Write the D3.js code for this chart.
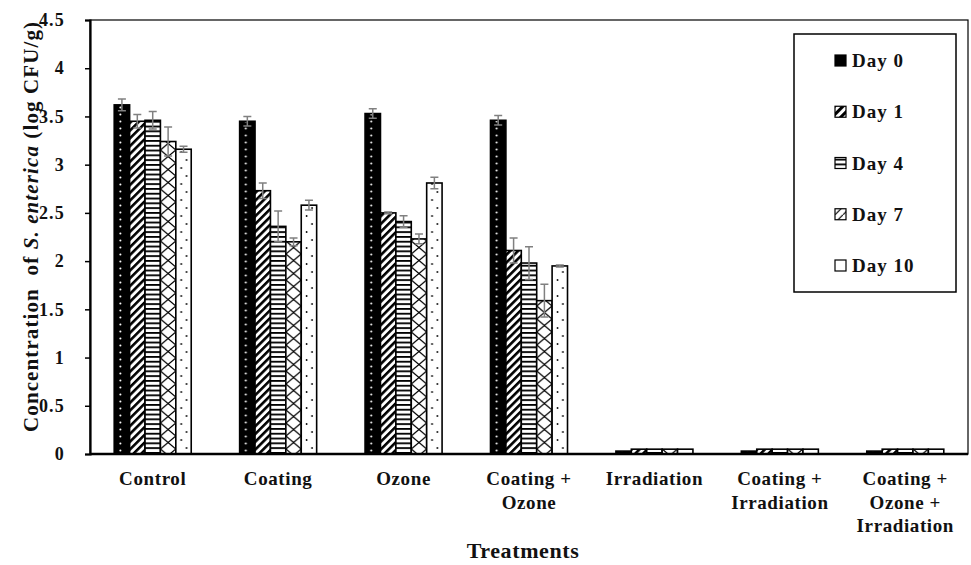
<!DOCTYPE html>
<html>
<head>
<meta charset="utf-8">
<script src="https://cdn.jsdelivr.net/npm/d3@7"></script>
<style>
  body { margin: 0; background: #fff; }
  svg text { font-family: "Liberation Serif", "Times New Roman", serif; font-weight: bold; fill: #111; }
</style>
</head>
<body>
<svg id="chart" width="971" height="565"></svg>
<script>
// data
const categories = ['Control', 'Coating', 'Ozone', 'Coating + Ozone', 'Irradiation',
    'Coating + Irradiation', 'Coating + Ozone + Irradiation'];
const categoryLines = [['Control'], ['Coating'], ['Ozone'], ['Coating +', 'Ozone'], ['Irradiation'],
    ['Coating +', 'Irradiation'], ['Coating +', 'Ozone +', 'Irradiation']];
const days = ['Day 0', 'Day 1', 'Day 4', 'Day 7', 'Day 10'];

// one array per treatment, values by day
const control = [3.62, 3.45, 3.46, 3.24, 3.16];
const coating = [3.45, 2.73, 2.36, 2.20, 2.58];
const ozone = [3.53, 2.50, 2.41, 2.23, 2.81];
const coatingOzone = [3.46, 2.11, 1.98, 1.59, 1.95];
const irradiation = [0.03, 0.05, 0.05, 0.05, 0.05];
const coatingIrradiation = [0.03, 0.05, 0.05, 0.05, 0.05];
const coatingOzoneIrradiation = [0.03, 0.05, 0.05, 0.05, 0.05];

// standard errors
const controlErr = [0.06, 0.07, 0.09, 0.15, 0.03];
const coatingErr = [0.05, 0.08, 0.16, 0.04, 0.05];
const ozoneErr = [0.05, 0.01, 0.06, 0.05, 0.06];
const coatingOzoneErr = [0.05, 0.13, 0.17, 0.17, 0.01];
const zeroErr = [0, 0, 0, 0, 0];

const yTicks = [0, 0.5, 1, 1.5, 2, 2.5, 3, 3.5, 4, 4.5];

const values = [control, coating, ozone, coatingOzone, irradiation, coatingIrradiation, coatingOzoneIrradiation];
const errors = [controlErr, coatingErr, ozoneErr, coatingOzoneErr, zeroErr, zeroErr, zeroErr];

const margin = { top: 20, left: 90, right: 3, bottom: 111 };
const width = 971 - margin.left - margin.right;
const height = 565 - margin.top - margin.bottom;

const svg = d3.select('#chart');
const defs = svg.append('defs');

const x0 = d3.scaleBand()
    .domain(categories)
    .range([0, width])
    .paddingInner(0.386)
    .paddingOuter(0.193);

const x1 = d3.scaleBand()
    .domain(days)
    .range([0, x0.bandwidth()])
    .padding(0);

const y = d3.scaleLinear()
    .domain([0, 4.5])
    .range([height, 0]);

const bw = x1.bandwidth();

// fill patterns for each day (tiles line up with the bars inside each group)
const pat = (id, w, h, extra) => {
    const p = defs.append('pattern')
        .attr('id', id)
        .attr('patternUnits', 'userSpaceOnUse')
        .attr('width', w)
        .attr('height', h);
    if (extra) p.attr('patternTransform', extra);
    return p;
};

const p0 = pat('day0', bw, 7);
p0.append('rect').attr('width', bw).attr('height', 7).attr('fill', '#000');
p0.append('circle').attr('cx', bw * 0.4).attr('cy', 3.5).attr('r', 1).attr('fill', '#fff');

const p1 = pat('day1', 5.5, 5.5, 'rotate(45)');
p1.append('rect').attr('width', 5.5).attr('height', 5.5).attr('fill', '#fff');
p1.append('rect').attr('width', 2.6).attr('height', 5.5).attr('fill', '#000');

const p2 = pat('day4', 6, 4.8);
p2.append('rect').attr('width', 6).attr('height', 4.8).attr('fill', '#fff');
p2.append('rect').attr('y', 0).attr('width', 6).attr('height', 1.8).attr('fill', '#000');

const p3 = pat('day7', bw, 13);
p3.append('rect').attr('width', bw).attr('height', 13).attr('fill', '#fff');
p3.append('path').attr('d', `M0,0L${bw},13M${bw},0L0,13`).attr('stroke', '#000').attr('stroke-width', 1.3);

const p4 = pat('day10', bw, 16);
p4.append('rect').attr('width', bw).attr('height', 16).attr('fill', '#fff');
p4.append('circle').attr('cx', bw * 0.35).attr('cy', 4).attr('r', 0.9).attr('fill', '#000');
p4.append('circle').attr('cx', bw * 0.7).attr('cy', 12).attr('r', 0.9).attr('fill', '#000');

const fills = ['url(#day0)', 'url(#day1)', 'url(#day4)', 'url(#day7)', 'url(#day10)'];

// small swatch fills for the legend
const s1 = pat('sw1', 6, 6, 'rotate(45)');
s1.append('rect').attr('width', 6).attr('height', 6).attr('fill', '#fff');
s1.append('rect').attr('width', 3).attr('height', 6).attr('fill', '#000');
const s3 = pat('sw3', 8, 8);
s3.append('rect').attr('width', 8).attr('height', 8).attr('fill', '#fff');
s3.append('path').attr('d', 'M0,8L8,0').attr('stroke', '#000').attr('stroke-width', 1.2);
const swatchFills = ['#000', 'url(#sw1)', 'url(#day4)', 'url(#sw3)', '#fff'];

const plot = svg.append('g').attr('transform', `translate(${margin.left},${margin.top})`);

// plot frame
plot.append('rect')
    .attr('width', width)
    .attr('height', height)
    .attr('fill', 'none')
    .attr('stroke', '#000')
    .attr('stroke-width', 1.2);

// bars
const groups = plot.selectAll('.group')
    .data(categories)
    .join('g')
    .attr('class', 'group')
    .attr('transform', d => `translate(${x0(d)},0)`);

const cells = groups.selectAll('.cell')
    .data((c, i) => days.map((d, j) => ({ day: d, j, v: values[i][j], e: errors[i][j] })))
    .join('g')
    .attr('class', 'cell');

cells.append('rect')
    .attr('x', d => x1(d.day))
    .attr('y', d => y(d.v))
    .attr('width', bw)
    .attr('height', d => height - y(d.v))
    .attr('fill', d => fills[d.j])
    .attr('stroke', '#000')
    .attr('stroke-width', 1.6);

// error bars
const capW = 4;
cells.filter(d => d.e > 0).append('path')
    .attr('stroke', '#808080')
    .attr('stroke-width', 1.5)
    .attr('fill', 'none')
    .attr('d', (d) => {
        const cx = x1(d.day) + bw / 2;
        const top = y(d.v + d.e);
        const bot = y(d.v - d.e);
        return `M${cx},${top}V${bot}M${cx - capW},${top}H${cx + capW}M${cx - capW},${bot}H${cx + capW}`;
    });

// y axis
const yAxis = d3.axisLeft(y)
    .tickValues(yTicks)
    .tickSize(5)
    .tickPadding(20)
    .tickFormat(d => d);

const yG = plot.append('g').call(yAxis);
yG.select('.domain').attr('stroke-width', 2.2);
yG.selectAll('.tick line').attr('stroke-width', 1.5);
yG.selectAll('.tick text')
    .style('font-size', '18px')
    .style('letter-spacing', '1.2px')
    .attr('fill', '#111');

// x axis baseline
plot.append('line')
    .attr('x1', 0)
    .attr('x2', width)
    .attr('y1', height)
    .attr('y2', height)
    .attr('stroke', '#000')
    .attr('stroke-width', 2.4);

// category labels
const catLabels = plot.selectAll('.cat')
    .data(categories)
    .join('text')
    .attr('class', 'cat')
    .attr('text-anchor', 'middle')
    .style('font-size', '19px')
    .style('letter-spacing', '0.6px')
    .attr('transform', d => `translate(${x0(d) + x0.bandwidth() / 2},${height + 31})`);

catLabels.selectAll('tspan')
    .data((d, i) => categoryLines[i])
    .join('tspan')
    .attr('x', 0)
    .attr('dy', (d, i) => (i === 0 ? 0 : 23.5))
    .text(d => d);

// axis titles
svg.append('text')
    .attr('x', 523)
    .attr('y', 558)
    .attr('text-anchor', 'middle')
    .style('font-size', '22px')
    .style('letter-spacing', '0.6px')
    .text('Treatments');

const yTitle = svg.append('text')
    .attr('transform', 'translate(38,227) rotate(-90)')
    .attr('text-anchor', 'middle')
    .attr('textLength', 410)
    .attr('lengthAdjust', 'spacing')
    .style('white-space', 'pre')
    .style('font-size', '21px');
yTitle.append('tspan').text('Concentration  of ');
yTitle.append('tspan').style('font-style', 'italic').text('S. enterica');
yTitle.append('tspan').text(' (log CFU/g)');

// legend
const legend = svg.append('g').attr('transform', 'translate(794,34)');
legend.append('rect')
    .attr('width', 162)
    .attr('height', 258)
    .attr('fill', '#fff')
    .attr('stroke', '#000')
    .attr('stroke-width', 1.5);

const legendY = d3.scalePoint()
    .domain(days)
    .range([27, 232]);

const items = legend.selectAll('.item')
    .data(days)
    .join('g')
    .attr('class', 'item')
    .attr('transform', d => `translate(41,${legendY(d)})`);

items.append('rect')
    .attr('x', 0)
    .attr('y', -6)
    .attr('width', 11)
    .attr('height', 11)
    .attr('fill', (d, i) => swatchFills[i])
    .attr('stroke', '#000')
    .attr('stroke-width', 1.2);

items.append('text')
    .attr('x', 17)
    .attr('y', 6)
    .style('font-size', '19px')
    .style('letter-spacing', '1px')
    .text(d => d);
</script>
</body>
</html>
